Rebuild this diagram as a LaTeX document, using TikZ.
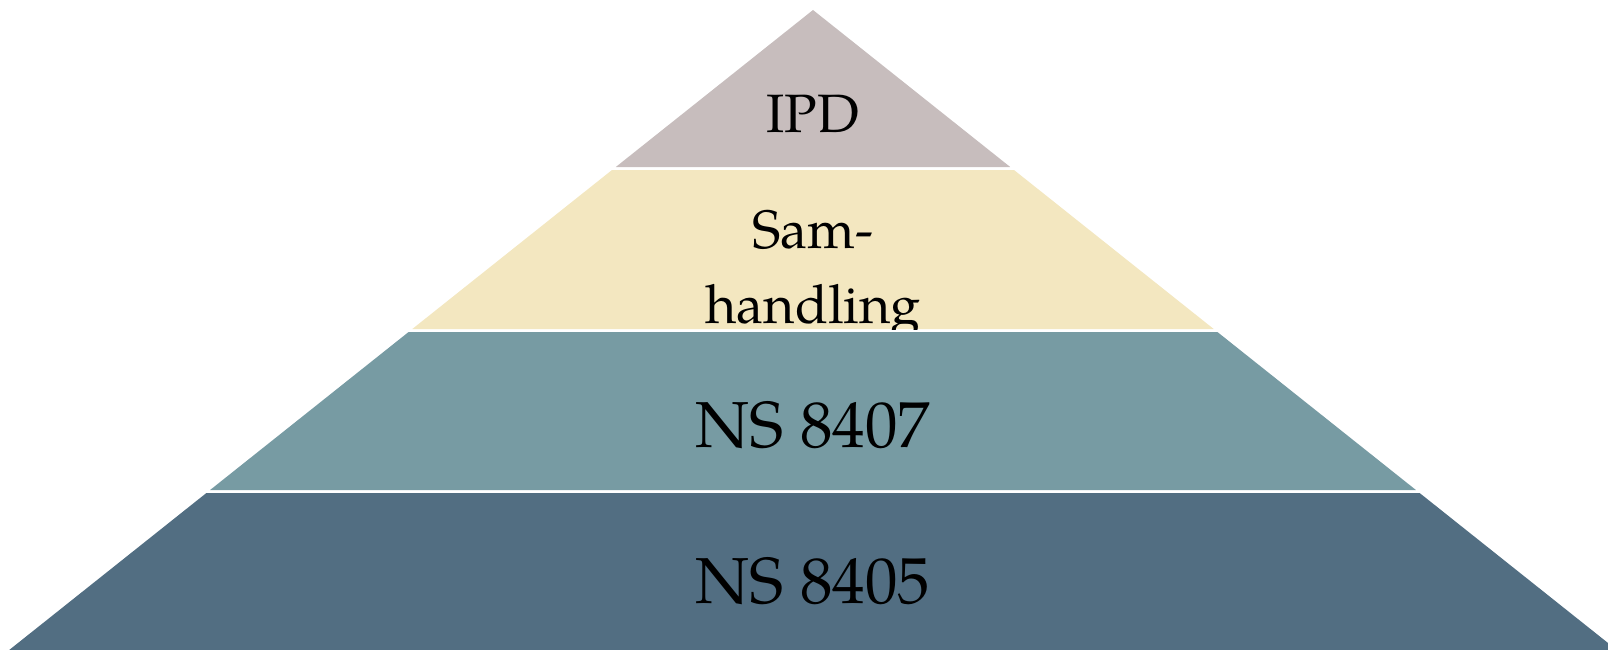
\documentclass[tikz,border=0pt]{standalone}
\usepackage{fontspec}
\setmainfont{TeX Gyre Pagella}
\definecolor{ipdcol}{HTML}{C7BDBD}
\definecolor{samcol}{HTML}{F3E7C0}
\definecolor{ns7col}{HTML}{779BA3}
\definecolor{ns5col}{HTML}{526E82}
\tikzset{
  layer/.style={draw=none},
  lbl/.style={anchor=base, inner sep=0pt, text=black},
  bigtxt/.style={font=\fontsize{65}{75}\selectfont},
  midtxt/.style={font=\fontsize{54}{75}\selectfont}
}
\begin{document}
\begin{tikzpicture}[x=1pt,y=-1pt]
\useasboundingbox (0,0) rectangle (1608,650);
% layers (apex at 813,10; half-width = 1.256*(y-10))
\fill[layer, ipdcol] (813,10) -- (1010.2,167) -- (615.8,167) -- cycle;
\fill[layer, samcol] (612,170) -- (1014,170) -- (1213.7,329) -- (412.3,329) -- cycle;
\fill[layer, ns7col] (408.6,332) -- (1217.4,332) -- (1415.9,490) -- (210.1,490) -- cycle;
\fill[layer, ns5col] (206.4,493) -- (1419.6,493) -- (1616.8,650) -- (9.2,650) -- cycle;
% labels
\node[lbl, midtxt] (ipd) at (813,132) {IPD};
\begin{scope}
  \clip (612,170) -- (1014,170) -- (1213.7,329) -- (412.3,329) -- cycle;
  \node[lbl, midtxt] (sama) at (813,248) {Sam-};
  \node[lbl, midtxt] (samb) at (813,323) {handling};
\end{scope}
\node[lbl, bigtxt] (ns7) at (813,447) {NS 8407};
\node[lbl, bigtxt] (ns5) at (813,603) {NS 8405};
\end{tikzpicture}
\end{document}
